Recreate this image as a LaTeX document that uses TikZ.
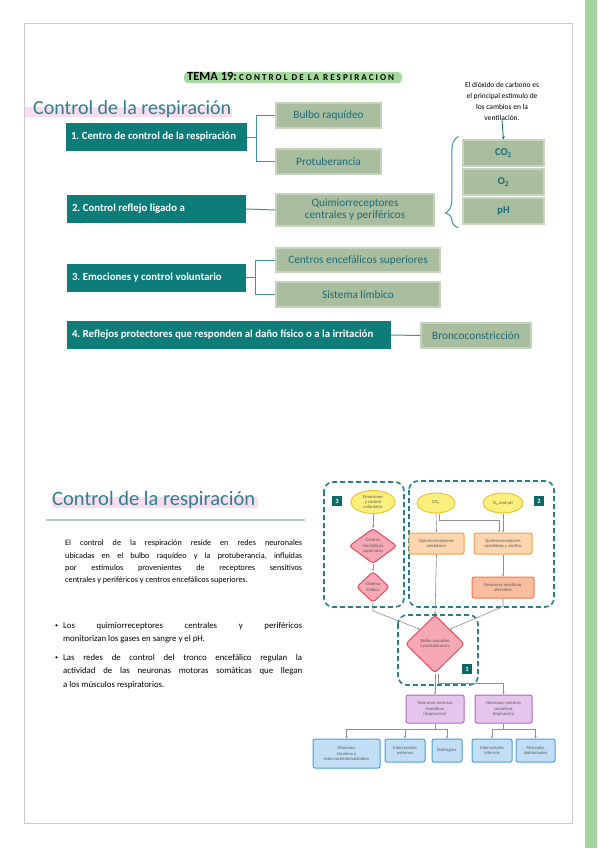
\documentclass[tikz,border=0pt]{standalone}
\usepackage{fontspec}
\setmainfont{Carlito}
\frenchspacing
\usetikzlibrary{positioning,arrows.meta,decorations.pathreplacing,shapes.geometric,calc,shadows}
\definecolor{tealc}{HTML}{0E7C79}
\definecolor{teallight}{HTML}{A9CFCF}
\definecolor{titlec}{HTML}{2F7F8C}
\definecolor{pinkhl}{HTML}{F9DDEE}
\definecolor{greenhl}{HTML}{A6D99F}
\definecolor{sage}{HTML}{A9BD9F}
\definecolor{sagebord}{HTML}{C6D3BF}
\definecolor{sagetext}{HTML}{1D6B78}
\definecolor{framec}{HTML}{C9C9C9}
\definecolor{barc}{HTML}{A3D59C}
\definecolor{dashc}{HTML}{2C7D89}
\definecolor{yelf}{HTML}{FBF07E}
\definecolor{yeld}{HTML}{F1C232}
\definecolor{pinkf}{HTML}{F6A8B4}
\definecolor{pinkd}{HTML}{E5495E}
\definecolor{orf}{HTML}{FCD6AF}
\definecolor{ord}{HTML}{F4A04A}
\definecolor{salf}{HTML}{F9BC9E}
\definecolor{sald}{HTML}{EE7B4A}
\definecolor{purf}{HTML}{E4C6EC}
\definecolor{purd}{HTML}{B468C4}
\definecolor{bluf}{HTML}{C2DEF5}
\definecolor{blud}{HTML}{4C9FD9}
\definecolor{graytxt}{HTML}{5A5A5A}
\definecolor{grayarr}{HTML}{909090}
\newcommand{\bul}{\hspace*{-8pt}\makebox[8pt][l]{\raisebox{0.6pt}{\fontsize{6}{6}\selectfont\textbullet}}\leftskip=8pt\relax}

\begin{document}
\begin{tikzpicture}[
  x=1pt, y=-1pt,
  tealbox/.style={
    rectangle, fill=tealc, text=white, inner xsep=5pt, inner ysep=0pt,
    font=\bfseries\fontsize{10.8}{12}\selectfont, align=flush left,
    minimum height=28
  },
  sagebox/.style={
    rectangle, fill=sage, draw=sagebord, line width=1.2pt, text=sagetext,
    drop shadow={shadow xshift=1pt, shadow yshift=-1pt, opacity=0.25},
    font=\fontsize{11.3}{12}\selectfont, align=center, inner sep=0pt
  },
  gasbox/.style={sagebox, minimum width=81, minimum height=26, font=\bfseries\fontsize{10.5}{12}\selectfont},
  dashbox/.style={draw=dashc, line width=1.6pt, dash pattern=on 5pt off 3pt, rounded corners=9pt},
  numtag/.style={rectangle, fill=tealc!85!black, text=white, font=\bfseries\fontsize{6.5}{7}\selectfont,
    minimum size=10, inner sep=0pt},
  tiny/.style={font=\fontsize{4.6}{5.4}\selectfont, text=graytxt, align=center, inner sep=0pt},
  oval/.style={tiny, ellipse, fill=yelf, draw=yeld, line width=1pt},
  rhomb/.style={tiny, diamond, fill=pinkf, draw=pinkd, line width=1pt, rounded corners=3pt},
  orbox/.style={tiny, rectangle, rounded corners=2pt, fill=orf, draw=ord, line width=1pt},
  salbox/.style={tiny, rectangle, rounded corners=2pt, fill=salf, draw=sald, line width=1pt},
  purbox/.style={tiny, rectangle, rounded corners=2pt, fill=purf, draw=purd, line width=1pt},
  blubox/.style={tiny, rectangle, rounded corners=2pt, fill=bluf, draw=blud, line width=1pt},
  link/.style={draw=tealc!80, line width=1pt},
  garr/.style={->, >={Stealth[length=2.4pt,width=2.2pt]}, draw=grayarr, line width=0.6pt}
]

\useasboundingbox (0,0) rectangle (597,848);
\fill[white] (0,0) rectangle (597,848);

% --- PAGE ---
\draw[framec, line width=1pt] (24,24) rectangle (572,823);
\fill[barc] (585,0) rectangle (597,848);

% Title
\fill[greenhl, rounded corners=4pt] (184,72) rectangle (402,83);
\node[font=\bfseries, anchor=base west, inner sep=0pt] (tema) at (187,81)
  {{\fontsize{12.5}{13}\selectfont TEMA 19:} {\fontsize{9}{9}\selectfont C O N T R O L\ \ D E\ \ L A\ \ R E S P I R A C I O N}};

% --- UPPER SCHEME ---
\fill[pinkhl] (25,107) rectangle (232,117);
\node[font=\fontsize{20}{22}\selectfont, text=titlec, anchor=base west, inner sep=0pt] (head1) at (33,114) {Control de la respiración};

% 1. Centro de control
\node[tealbox, minimum width=181, text width=171] (c1) at (156.5,137) {1. Centro de control de la respiración};
\node[sagebox, minimum width=105, minimum height=25] (bulbo) at (328.5,115.5) {Bulbo raquídeo};
\node[sagebox, minimum width=105, minimum height=25] (protub) at (328.5,161.5) {Protuberancia};
\draw[link] (c1.east) -- ++(9,0) |- (bulbo.west);
\draw[link] (c1.east) -- ++(9,0) |- (protub.west);

% 2. Control reflejo
\node[tealbox, minimum width=179, text width=169] (c2) at (156.5,209) {2. Control reflejo ligado a};
\node[sagebox, minimum width=158, minimum height=32] (quimio) at (355,210) {Quimiorreceptores\\centrales y periféricos};
\draw[link] (c2.east) -- (quimio.west);

% gases
\node[gasbox] (co2) at (503.5,153) {CO\textsubscript{2}};
\node[gasbox] (o2) at (503.5,182) {O\textsubscript{2}};
\node[gasbox] (ph) at (503.5,211) {pH};
\draw[link, decorate, decoration={brace, amplitude=13pt, aspect=0.16}]
  ([xshift=-4pt,yshift=-3pt]ph.south west) -- ([xshift=-4pt,yshift=3pt]co2.north west);
\node[font=\fontsize{7.5}{11}\selectfont, align=center, inner sep=0pt] (note) at (502,101)
  {El dióxido de carbono es\\el principal estímulo de\\los cambios en la\\ventilación.};
\draw[->, >={Stealth[length=3pt,width=3pt]}, draw=tealc, line width=0.9pt] (note.south) -- (co2.north);

% 3. Emociones
\node[tealbox, minimum width=179, text width=169] (c3) at (156.5,277.5) {3. Emociones y control voluntario};
\node[sagebox, minimum width=164, minimum height=24] (centros) at (358,260) {Centros encefálicos superiores};
\node[sagebox, minimum width=164, minimum height=25] (limbico) at (358,294.5) {Sistema límbico};
\draw[link] (c3.east) -- ++(9,0) |- (centros.west);
\draw[link] (c3.east) -- ++(9,0) |- (limbico.west);

% 4. Reflejos protectores
\node[tealbox, minimum width=324, text width=314] (c4) at (229,335) {4. Reflejos protectores que responden al daño físico o a la irritación};
\node[sagebox, minimum width=110, minimum height=25] (bronco) at (476,335.5) {Broncoconstricción};
\draw[link] (c4.east) -- (bronco.west);

% --- LOWER TEXT ---
\fill[pinkhl] (52,497) rectangle (258,508);
\node[font=\fontsize{20.5}{22}\selectfont, text=titlec, anchor=base west, inner sep=0pt] (head2) at (52,505) {Control de la respiración};
\draw[teallight, line width=1.5pt] (46,520) -- (305,520);

\node[font=\fontsize{8.2}{12.3}\selectfont, text width=237, align=justify, anchor=north west, inner sep=0pt] (parr) at (65,540)
  {El control de la respiración reside en redes neuronales\linebreak
   ubicadas en el bulbo raquídeo y la protuberancia, influidas\linebreak
   por estímulos provenientes de receptores sensitivos\linebreak
   centrales y periféricos y centros encefálicos superiores.};

\node[font=\fontsize{8.8}{13.5}\selectfont, text width=247, align=justify, anchor=north west, inner sep=0pt] (bullets) at (55,622)
  {\bul Los quimiorreceptores centrales y periféricos\linebreak
   monitorizan los gases en sangre y el pH.\par\vspace{5pt}
   \bul Las redes de control del tronco encefálico regulan la\linebreak
   actividad de las neuronas motoras somáticas que llegan\linebreak
   a los músculos respiratorios.\par};

% --- FLOW DIAGRAM ---
\draw[dashbox] (324,482) rectangle (404,607);
\draw[dashbox] (409,481) rectangle (554,607);
\draw[dashbox] (398,615) rectangle (478,685);
\node[numtag] (tag3) at (337,501) {3};
\node[numtag] (tag2) at (539,501) {2};
\node[numtag] (tag1) at (467,669) {1};

% group 3
\node[oval, minimum width=44, minimum height=23] (emo) at (373,502) {Emociones\\y control\\voluntario};
\node[rhomb, minimum width=48, minimum height=33] (centd) at (373,546) {Centros\\encefálicos\\superiores};
\node[rhomb, minimum width=33, minimum height=31] (limbd) at (373,587) {Sistema\\límbico};
\draw[garr] (emo) -- (centd);
\draw[garr] (centd) -- (limbd);

% group 2
\node[oval, minimum width=38, minimum height=20] (co2e) at (436,503) {CO\textsubscript{2}};
\node[oval, minimum width=40, minimum height=20] (o2e) at (503,503) {O\textsubscript{2} and pH};
\node[orbox, minimum width=55, minimum height=21] (medul) at (436.5,543.5) {Quimiorreceptores\\medulares};
\node[orbox, minimum width=58, minimum height=21] (carot) at (503,543.5) {Quimiorreceptores\\carotídeos y aórtico};
\node[salbox, minimum width=62, minimum height=21] (aferent) at (503,587.5) {Neuronas sensitivas\\aferentes};
\draw[garr] (co2e.south) -- (medul.north);
\draw[garr] ([xshift=3pt]co2e.south) -- ++(0,7) -| ([xshift=-4pt]carot.north);
\draw[garr] (o2e.south) -- (carot.north);
\draw[garr] (carot) -- (aferent);

% group 1
\node[rhomb, minimum width=59, minimum height=58] (bulbod) at (435,644) {Bulbo raquídeo\\y protuberancia};
\draw[garr] (medul.south) -- (bulbod.north);
\draw[garr] (limbd.south) -- ++(0,8) -- (bulbod.north west);
\draw[garr] (aferent.south) -- ++(0,8) -- (bulbod.north east);

% motor neurons
\node[purbox, minimum width=58, minimum height=28] (insp) at (435,709) {Neuronas motoras\\somáticas\\(inspiración)};
\node[purbox, minimum width=57, minimum height=28] (esp) at (503.5,709) {Neuronas motoras\\somáticas\\(espiración)};
\draw[garr] (bulbod.south) -- (insp.north);
\draw[garr] ([xshift=3pt]bulbod.south) -- ++(0,10) -| (esp.north);

% muscles
\node[blubox, minimum width=67, minimum height=29] (esc) at (346.5,753.5) {Músculos\\escaleno y\\esternocleidomastoideo};
\node[blubox, minimum width=40, minimum height=23] (iext) at (405,750.5) {Intercostales\\externos};
\node[blubox, minimum width=30, minimum height=23] (diaf) at (447,750.5) {Diafragma};
\node[blubox, minimum width=40, minimum height=23] (iint) at (492,750.5) {Intercostales\\internos};
\node[blubox, minimum width=39, minimum height=23] (abd) at (535.5,750.5) {Músculos\\abdominales};
\coordinate (ib) at ($(insp.south)+(0,6)$);
\coordinate (eb) at ($(esp.south)+(0,6)$);
\draw[draw=grayarr, line width=0.6pt] (insp.south) -- (ib);
\draw[draw=grayarr, line width=0.6pt] (esp.south) -- (eb);
\foreach \m in {esc,iext,diaf} {
  \draw[garr] (ib) -| (\m.north);
}
\foreach \m in {iint,abd} {
  \draw[garr] (eb) -| (\m.north);
}

\end{tikzpicture}
\end{document}
